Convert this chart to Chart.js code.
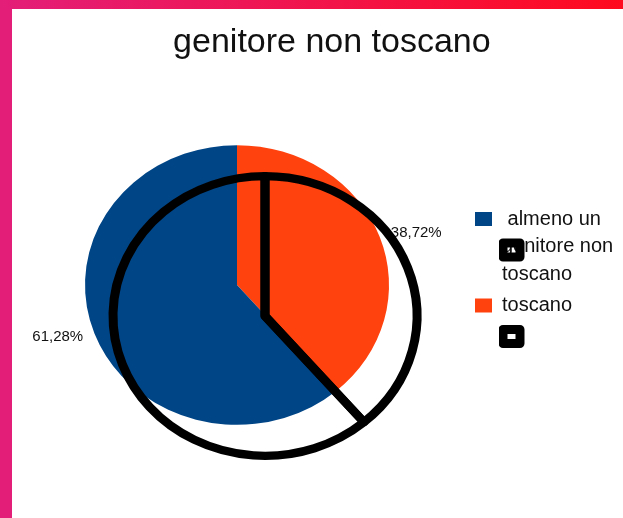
<!DOCTYPE html>
<html>
<head>
<meta charset="utf-8">
<title>genitore non toscano</title>
<script src="https://cdn.jsdelivr.net/npm/chart.js@4.4.1/dist/chart.umd.min.js"></script>
<style>
  html, body { margin: 0; padding: 0; background: #fff; overflow: hidden; }
  #frame { position: relative; width: 623px; height: 518px; overflow: hidden; background: #fff; }
  canvas { position: absolute; }
  #pieChart { left: 0; top: 0; }
  #outlineChart { left: 28px; top: 31px; pointer-events: none; }
  .bar-left { position: absolute; left: 0; top: 0; width: 12px; height: 518px; background: #e31e79; z-index: 2; }
  .bar-top { position: absolute; left: 0; top: 0; width: 623px; height: 9px; background: linear-gradient(to right, #e31e79, #ff0a1e); z-index: 3; }
</style>
</head>
<body>
<div id="frame">
  <canvas id="pieChart" width="623" height="518"></canvas>
  <canvas id="outlineChart" width="623" height="518"></canvas>
  <div class="bar-left"></div>
  <div class="bar-top"></div>
</div>
<script>
const chartTitle = "    genitore non toscano";
// drawn clockwise from the top; the legend lists them reversed
const categories = ["toscano", [" almeno un", "genitore non", "toscano"]];
const shares = [38.72, 61.28];
const sliceColors = ["#ff420e", "#004586"];

const FONT = "'Liberation Sans', Arial, sans-serif";
const squash = 0.92;   // pie is a bit flatter than round

Chart.defaults.font.family = FONT;

// flatten the pie vertically around its centre
const squashPlugin = {
    id: 'squash',
    beforeDatasetsDraw(chart) {
        const arc = chart.getDatasetMeta(0).data[0];
        const ctx = chart.ctx;
        ctx.save();
        ctx.translate(arc.x, arc.y);
        ctx.scale(1, squash);
        ctx.translate(-arc.x, -arc.y);
    },
    afterDatasetsDraw(chart) {
        chart.ctx.restore();
    }
};

// percentage next to each slice
const sliceLabels = {
    id: 'sliceLabels',
    afterDatasetsDraw(chart) {
        const ctx = chart.ctx;
        const meta = chart.getDatasetMeta(0);
        ctx.save();
        ctx.font = "15px " + FONT;
        ctx.fillStyle = '#111';
        ctx.textBaseline = 'middle';
        meta.data.forEach((arc, i) => {
            const mid = (arc.startAngle + arc.endAngle) / 2;
            const r = arc.outerRadius + 12;
            const x = arc.x + Math.cos(mid) * r;
            const y = arc.y + Math.sin(mid) * r * squash;
            ctx.textAlign = Math.cos(mid) < 0 ? 'right' : 'left';
            ctx.fillText(shares[i].toFixed(2).replace('.', ',') + '%', x, y);
        });
        ctx.restore();
    }
};

const baseOptions = (textColor, labelOpts) => ({
    responsive: false,
    animation: false,
    layout: { padding: { left: 3, right: 0, top: 0, bottom: 153 } },
    plugins: {
        title: {
            display: true,
            text: chartTitle,
            color: textColor,
            font: { family: FONT, size: 34, weight: 'normal', lineHeight: 1.2 },
            padding: { top: 22, bottom: 142.2 }
        },
        legend: {
            position: 'right',
            align: 'start',
            fullSize: false,
            reverse: true,
            maxWidth: 152,
            labels: Object.assign({
                boxWidth: 17,
                boxHeight: 14,
                padding: 4,
                color: textColor,
                font: { family: FONT, size: 20, lineHeight: 1.375 }
            }, labelOpts)
        },
        tooltip: { enabled: false }
    }
});

new Chart(document.getElementById('pieChart').getContext('2d'), {
    type: 'pie',
    data: {
        labels: categories,
        datasets: [{
            data: shares,
            backgroundColor: sliceColors,
            borderWidth: 0,
            radius: 152
        }]
    },
    options: baseOptions('#111', {}),
    plugins: [squashPlugin, sliceLabels]
});

// thick black outline of the same pie, shifted down-right
new Chart(document.getElementById('outlineChart').getContext('2d'), {
    type: 'pie',
    data: {
        labels: categories,
        datasets: [{
            data: shares,
            backgroundColor: 'rgba(0,0,0,0)',
            borderColor: '#000',
            borderWidth: 9,
            borderJoinStyle: 'round',
            borderAlign: 'center',
            radius: 152
        }]
    },
    options: baseOptions('rgba(0,0,0,0)', {
        generateLabels: (chart) => chart.data.labels.map((text, i) => ({
            text: text,
            fillStyle: 'rgba(0,0,0,0)',
            strokeStyle: '#000',
            lineWidth: 9,
            lineJoin: 'round',
            fontColor: 'rgba(0,0,0,0)',
            hidden: false,
            index: i
        }))
    }),
    plugins: [squashPlugin]
});
</script>
</body>
</html>
